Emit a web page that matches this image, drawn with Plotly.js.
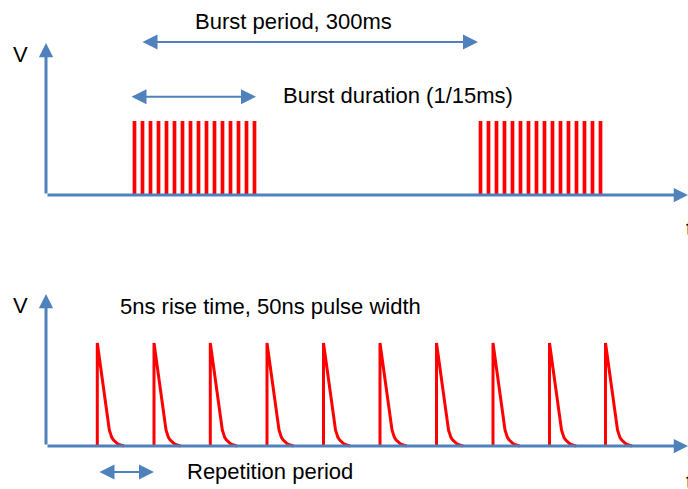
<!DOCTYPE html>
<html>
<head>
<meta charset="utf-8">
<script src="https://cdn.plot.ly/plotly-3.0.1.min.js"></script>
<style>html,body{margin:0;padding:0;background:#fff;}#chart{width:688px;height:489px;}</style>
</head>
<body>
<div id="chart"></div>
<script>
// ---- data (time in diagram units, voltage normalised: baseline 0, peak 1) ----
var burst1PulseTimes = [134.5, 142.5, 150.5, 158.5, 166.5, 174.5, 182.5, 190.5, 198.5, 206.5, 214.5, 222.5, 230.5, 238.5, 246.5, 254.5];
var burst2PulseTimes = [480.5, 488.5, 496.5, 504.5, 512.5, 520.5, 528.5, 536.5, 544.5, 552.5, 560.5, 568.5, 576.5, 584.5, 592.5, 600.5];
var burstAmplitude = 1;

var pulseStartTimes = [97.3, 154, 210.3, 267, 323.5, 380, 436.5, 493, 549.5, 605.5];
var pulseShapeT = [0, 0, 12, 13, 14.4, 16, 17.7, 20, 22.3, 24.5, 26.7];
var pulseShapeV = [0, 1, 0.155, 0.115, 0.084, 0.06, 0.042, 0.024, 0.012, 0.004, 0];

var labels = {
  burstPeriod: 'Burst period, 300ms',
  burstDuration: 'Burst duration (1/15ms)',
  pulseInfo: '5ns rise time, 50ns pulse width',
  repetition: 'Repetition period',
  vAxis: 'V',
  tAxis: 't'
};

var BLUE = '#4f81bd';
var RED = '#ff0000';
var FONT = {family: 'Liberation Sans, Arial, sans-serif', size: 22, color: '#000000'};

// bottom pulse train from the shape profile
var trainX = [], trainY = [];
pulseStartTimes.forEach(function (t0) {
  for (var i = 0; i < pulseShapeT.length; i++) {
    trainX.push(t0 + pulseShapeT[i]);
    trainY.push(pulseShapeV[i]);
  }
  trainX.push(null); trainY.push(null);
});

var traces = [
  {type: 'bar', x: burst1PulseTimes, y: burst1PulseTimes.map(function(){return burstAmplitude;}), base: 0,
   width: 3.7, marker: {color: RED, line: {width: 0}}, xaxis: 'x', yaxis: 'y', hoverinfo: 'skip'},
  {type: 'bar', x: burst2PulseTimes, y: burst2PulseTimes.map(function(){return burstAmplitude;}), base: 0,
   width: 3.7, marker: {color: RED, line: {width: 0}}, xaxis: 'x', yaxis: 'y', hoverinfo: 'skip'},
  {type: 'scatter', mode: 'lines', x: trainX, y: trainY, connectgaps: false,
   line: {color: RED, width: 3, shape: 'linear'}, xaxis: 'x', yaxis: 'y2', hoverinfo: 'skip'}
];

function arrow(yref, x0, y0, x1, y1, width, size, both) {
  return {xref: 'x', yref: yref, axref: 'x', ayref: yref, x: x1, y: y1, ax: x0, ay: y0,
    text: '', showarrow: true, arrowcolor: BLUE, arrowwidth: width, arrowhead: 2, arrowsize: size,
    startarrowhead: 2, startarrowsize: size, arrowside: both ? 'end+start' : 'end', standoff: 0, startstandoff: 0};
}
function label(yref, x, y, text, anchor) {
  return {xref: 'x', yref: yref, x: x, y: y, text: text, showarrow: false, font: FONT,
    xanchor: anchor || 'center', yanchor: 'middle'};
}

var annotations = [
  // top panel axes
  arrow('y', 46, 0, 46, 2.054, 3, 0.95, false),
  arrow('y', 46, 0, 688, 0, 3, 0.95, false),
  label('y', 20, 1.90, labels.vAxis),
  label('y', 683.5, -0.45, labels.tAxis, 'left'),
  // burst period
  arrow('y', 141, 2.068, 478, 2.068, 2, 1.5, true),
  label('y', 293, 2.35, labels.burstPeriod),
  // burst duration
  arrow('y', 130, 1.328, 256, 1.328, 2, 1.5, true),
  label('y', 281, 1.345, labels.burstDuration, 'left'),
  // bottom panel axes
  arrow('y2', 46, 0, 46, 1.476, 3, 0.95, false),
  arrow('y2', 46, 0, 688, 0, 3, 0.95, false),
  label('y2', 20, 1.36, labels.vAxis),
  label('y2', 683.5, -0.34, labels.tAxis, 'left'),
  label('y2', 270, 1.35, labels.pulseInfo),
  // repetition period
  arrow('y2', 98, -0.252, 154, -0.252, 2, 1.5, true),
  label('y2', 185, -0.245, labels.repetition, 'left')
];

var layout = {
  width: 688, height: 489,
  margin: {l: 0, r: 0, t: 0, b: 0, pad: 0},
  paper_bgcolor: '#ffffff', plot_bgcolor: '#ffffff',
  showlegend: false, barmode: 'overlay',
  xaxis: {range: [0, 688], visible: false, fixedrange: true},
  yaxis: {domain: [0.5, 1], range: [-0.6689, 2.6351], visible: false, fixedrange: true},
  yaxis2: {domain: [0, 0.5], range: [-0.4175, 1.9563], visible: false, fixedrange: true, anchor: 'x'},
  annotations: annotations
};

Plotly.newPlot('chart', traces, layout, {displayModeBar: false, staticPlot: true});
</script>
</body>
</html>
